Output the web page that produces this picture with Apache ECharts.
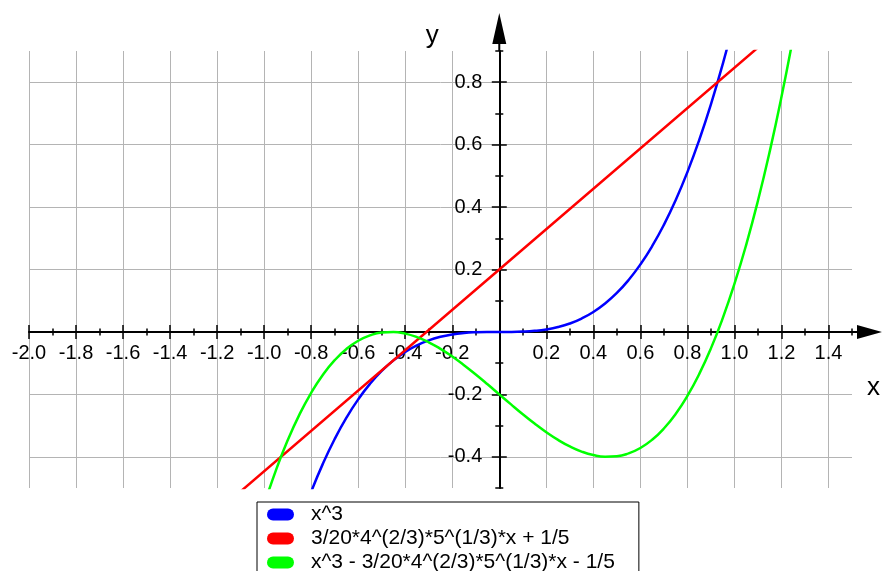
<!DOCTYPE html>
<html>
<head>
<meta charset="utf-8">
<script src="https://cdn.jsdelivr.net/npm/echarts@6/dist/echarts.min.js"></script>
<style>
  html, body { margin: 0; padding: 0; background: #fff; }
  #chart { width: 882px; height: 571px; }
</style>
</head>
<body>
<div id="chart"></div>
<script>
// axis extents and tick positions
const xRange = [-2.0, 1.5]
const yRange = [-0.5, 0.9]
const xTicks = [-2.0, -1.8, -1.6, -1.4, -1.2, -1.0, -0.8, -0.6, -0.4, -0.2, 0, 0.2, 0.4, 0.6, 0.8, 1.0, 1.2, 1.4]
const xLabels = [-2.0, -1.8, -1.6, -1.4, -1.2, -1.0, -0.8, -0.6, -0.4, -0.2, 0.2, 0.4, 0.6, 0.8, 1.0, 1.2, 1.4]
const yTicks = [-0.4, -0.2, 0, 0.2, 0.4, 0.6, 0.8]
const yLabels = [-0.4, -0.2, 0.2, 0.4, 0.6, 0.8]
const minorStep = 0.1

const names = ['x^3', '3/20*4^(2/3)*5^(1/3)*x + 1/5', 'x^3 - 3/20*4^(2/3)*5^(1/3)*x - 1/5']

// points
const blueX = [-0.8, -0.75, -0.7, -0.65, -0.6, -0.55, -0.5, -0.45, -0.4, -0.35, -0.3, -0.25, -0.2, -0.15, -0.1, -0.05,
  0, 0.05, 0.1, 0.15, 0.2, 0.25, 0.3, 0.35, 0.4, 0.45, 0.5, 0.55, 0.6, 0.65, 0.7, 0.75, 0.8, 0.85, 0.9, 0.95, 1.0]
const blueY = [-0.512, -0.4219, -0.343, -0.2746, -0.216, -0.1664, -0.125, -0.0911, -0.064, -0.0429, -0.027, -0.0156, -0.008, -0.0034, -0.001, -0.0001,
  0, 0.0001, 0.001, 0.0034, 0.008, 0.0156, 0.027, 0.0429, 0.064, 0.0911, 0.125, 0.1664, 0.216, 0.2746, 0.343, 0.4219, 0.512, 0.6141, 0.729, 0.8574, 1.0]
const redX = [-1.1, 0, 1.1]
const redY = [-0.511, 0.2, 0.911]
const greenX = [-1.0, -0.95, -0.9, -0.85, -0.8, -0.75, -0.7, -0.65, -0.6, -0.55, -0.5, -0.45, -0.4, -0.35, -0.3, -0.25, -0.2, -0.15, -0.1, -0.05,
  0, 0.05, 0.1, 0.15, 0.2, 0.25, 0.3, 0.35, 0.4, 0.45, 0.5, 0.55, 0.6, 0.65, 0.7, 0.75, 0.8, 0.85, 0.9, 0.95, 1.0, 1.05, 1.1, 1.15, 1.2, 1.25]
const greenY = [-0.5537, -0.4434, -0.3473, -0.2648, -0.195, -0.1372, -0.0906, -0.0545, -0.0282, -0.0109, -0.0019, -0.0003, -0.0055, -0.0167, -0.0331, -0.0541, -0.0787, -0.1064, -0.1364, -0.1678,
  -0.2, -0.2322, -0.2636, -0.2936, -0.3213, -0.346, -0.3669, -0.3833, -0.3945, -0.3997, -0.3982, -0.3891, -0.3718, -0.3455, -0.3094, -0.2629, -0.205, -0.1352, -0.0527, 0.0434, 0.1537, 0.279, 0.4201, 0.5776, 0.7524, 0.9452]

const font = 'Liberation Sans, Arial, sans-serif'
const arrowX = 'path://M7,0L14,25L8,25L8,30L6,30L6,25L0,25Z'
const arrowY = 'path://M7,0L14,31L8,31L8,38L6,38L6,31L0,31Z'
const pill = 'path://M6,0H21A6,6,0,0,1,21,12H6A6,6,0,0,1,6,0Z'

// grid box, and where the zero lines fall inside it
const W = 882, H = 571
const gl = 29, gr = 30, gt = 51, gb = 83
const gw = W - gl - gr, gh = H - gt - gb
const zeroX = gl + gw * (0 - xRange[0]) / (xRange[1] - xRange[0])
const zeroY = gt + gh * (yRange[1] - 0) / (yRange[1] - yRange[0])
const offsets = {
  bottom: -(H - gb - zeroY),
  top: -(zeroY - gt),
  left: -(zeroX - gl),
  right: -(W - gr - zeroX)
}

const zip = (xs, ys) => xs.map((v, i) => [v, ys[i]])
const fmt = v => Number(v).toFixed(1)

// extra axes that only draw ticks on the other side / the minor ticks
function tickAxis(dim, position, opts) {
  const range = dim === 'x' ? xRange : yRange
  return {
    type: 'value',
    position: position,
    offset: offsets[position],
    min: range[0],
    max: range[1],
    interval: opts.interval,
    axisLine: { show: false, onZero: false },
    axisTick: {
      show: true,
      length: opts.length,
      customValues: opts.custom,
      lineStyle: { color: '#000', width: 1.5 }
    },
    axisLabel: { show: false },
    splitLine: { show: false }
  }
}

let myChart = echarts.init(document.getElementById('chart'))
myChart.setOption({
  backgroundColor: '#fff',
  animation: false,
  grid: {
    left: gl,
    right: gr,
    top: gt,
    bottom: gb,
    containLabel: false,
    outerBoundsMode: 'none'
  },
  xAxis: [
    {
      type: 'value',
      position: 'bottom',
      offset: offsets.bottom,
      min: xRange[0],
      max: xRange[1],
      name: 'x',
      nameLocation: 'end',
      nameGap: 15,
      nameMoveOverlap: false,
      nameTextStyle: { fontSize: 26, color: '#000', fontFamily: font, align: 'left', verticalAlign: 'top', padding: [43, 0, 0, 0] },
      axisLine: {
        show: true,
        onZero: false,
        symbol: ['none', arrowX],
        symbolSize: [14, 30],
        symbolOffset: [0, 15],
        lineStyle: { color: '#000', width: 2 }
      },
      axisTick: {
        show: true,
        length: 7,
        customValues: xTicks,
        lineStyle: { color: '#000', width: 1.5 }
      },
      axisLabel: {
        show: true,
        customValues: xLabels,
        formatter: fmt,
        margin: 12,
        fontSize: 20,
        color: '#000',
        fontFamily: font
      },
      splitLine: { show: true, lineStyle: { color: '#b4b4b4', width: 1 } }
    },
    tickAxis('x', 'top', { length: 7, custom: xTicks }),
    tickAxis('x', 'bottom', { length: 3.5, interval: minorStep }),
    tickAxis('x', 'top', { length: 3.5, interval: minorStep })
  ],
  yAxis: [
    {
      type: 'value',
      position: 'left',
      offset: offsets.left,
      min: yRange[0],
      max: yRange[1],
      name: 'y',
      nameLocation: 'end',
      nameGap: 2,
      nameMoveOverlap: false,
      nameTextStyle: { fontSize: 26, color: '#000', fontFamily: font, padding: [0, 134, 0, 0] },
      axisLine: {
        show: true,
        onZero: false,
        symbol: ['none', arrowY],
        symbolSize: [14, 38],
        symbolOffset: [0, 19],
        lineStyle: { color: '#000', width: 2 }
      },
      axisTick: {
        show: true,
        length: 7.5,
        customValues: yTicks,
        lineStyle: { color: '#000', width: 1.5 }
      },
      axisLabel: {
        show: true,
        customValues: yLabels,
        formatter: fmt,
        margin: 17,
        fontSize: 20,
        color: '#000',
        fontFamily: font
      },
      splitLine: { show: true, lineStyle: { color: '#b4b4b4', width: 1 } }
    },
    tickAxis('y', 'right', { length: 7.5, custom: yTicks }),
    tickAxis('y', 'left', { length: 4, interval: minorStep }),
    tickAxis('y', 'right', { length: 4, interval: minorStep })
  ],
  legend: {
    orient: 'vertical',
    left: 257,
    top: 502,
    height: 200,
    padding: [2, 24, 6, 10],
    itemGap: 3,
    itemWidth: 27,
    itemHeight: 12,
    icon: pill,
    borderColor: '#000',
    borderWidth: 1,
    textStyle: { fontSize: 21, color: '#000', fontFamily: font, padding: [0, 0, 0, 12] },
    data: names
  },
  series: [
    {
      name: names[0],
      type: 'line',
      data: zip(blueX, blueY),
      smooth: true,
      showSymbol: false,
      clip: true,
      color: '#0000ff',
      lineStyle: { color: '#0000ff', width: 2.5 }
    },
    {
      name: names[1],
      type: 'line',
      data: zip(redX, redY),
      showSymbol: false,
      clip: true,
      color: '#ff0000',
      lineStyle: { color: '#ff0000', width: 2.5 }
    },
    {
      name: names[2],
      type: 'line',
      data: zip(greenX, greenY),
      smooth: true,
      showSymbol: false,
      clip: true,
      color: '#00ff00',
      lineStyle: { color: '#00ff00', width: 2.5 }
    }
  ]
})
window.onresize = function() {
  myChart.resize()
}
</script>
</body>
</html>
